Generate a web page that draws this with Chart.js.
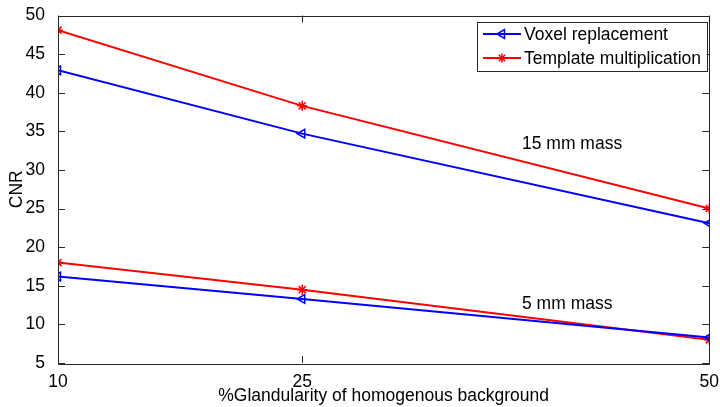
<!DOCTYPE html>
<html><head><meta charset="utf-8">
<script src="https://cdn.jsdelivr.net/npm/chart.js@4/dist/chart.umd.min.js"></script>
<style>html,body{margin:0;padding:0;background:#fff}#wrap{width:720px;height:407px}</style>
</head><body><div id="wrap"><canvas id="c" width="720" height="407"></canvas></div>
<script>
const xValues = [10, 25, 50];
const xTicks = [10, 25, 50];
const voxel15 = [42.9, 34.7, 23.1];
const template15 = [48.1, 38.3, 25.0];
const voxel5 = [16.2, 13.3, 8.3];
const template5 = [18.0, 14.5, 8.0];
const seriesNames = ['Voxel replacement', 'Template multiplication'];
const annotations = [
  {text: '15 mm mass', x: 38.5, y: 33.3},
  {text: '5 mm mass', x: 38.5, y: 12.6}
];
const BLUE = '#0000ff', RED = '#ff0000', AX = '#262626';
const FAM = '"Liberation Sans", Arial, sans-serif';
const FS = 17.5;
const FONT = FS + 'px ' + FAM;

function pts(ys){ return xValues.map((x,i)=>({x:x,y:ys[i]})); }
function ds(label, ys, color, style, rot, r){
  return {label:label, data:pts(ys), borderColor:color, backgroundColor:'rgba(0,0,0,0)',
    borderWidth:2, pointStyle:style, pointRotation:rot, pointRadius:r, pointBorderWidth:1.5,
    pointBorderColor:color, pointBackgroundColor:'rgba(0,0,0,0)', tension:0, fill:false};
}

function drawMarker(ctx, style, x, y, color){
  ctx.save(); ctx.strokeStyle=color; ctx.lineWidth=1.5;
  ctx.beginPath();
  if(style==='tri'){
    const r=5;
    ctx.moveTo(x-r, y); ctx.lineTo(x+r*0.5, y-r*0.866); ctx.lineTo(x+r*0.5, y+r*0.866); ctx.closePath();
  } else {
    const r=4.5;
    ctx.moveTo(x-r,y);ctx.lineTo(x+r,y);ctx.moveTo(x,y-r);ctx.lineTo(x,y+r);
    const d=r*0.707;
    ctx.moveTo(x-d,y-d);ctx.lineTo(x+d,y+d);ctx.moveTo(x-d,y+d);ctx.lineTo(x+d,y-d);
  }
  ctx.stroke(); ctx.restore();
}

const framePlugin = {
  id:'frame',
  afterDatasetsDraw(chart){
    const ctx = chart.ctx, a = chart.chartArea, xs = chart.scales.x, ys = chart.scales.y;
    ctx.save();
    ctx.strokeStyle = AX; ctx.lineWidth = 1;
    ctx.beginPath();
    ctx.rect(Math.round(a.left)+0.5, Math.round(a.top)+0.5, Math.round(a.right-a.left), Math.round(a.bottom-a.top));
    ctx.stroke();
    const tl = 7;
    ctx.beginPath();
    ys.ticks.forEach(t=>{
      const p = Math.round(ys.getPixelForValue(t.value))+0.5;
      ctx.moveTo(a.left, p); ctx.lineTo(a.left+tl, p);
      ctx.moveTo(a.right, p); ctx.lineTo(a.right-tl, p);
    });
    xs.ticks.forEach(t=>{
      const p = Math.round(xs.getPixelForValue(t.value))+0.5;
      ctx.moveTo(p, a.bottom); ctx.lineTo(p, a.bottom-tl);
      ctx.moveTo(p, a.top); ctx.lineTo(p, a.top+tl);
    });
    ctx.stroke();
    // annotations
    ctx.fillStyle = '#000'; ctx.font = FONT; ctx.textBaseline='middle'; ctx.textAlign='left';
    annotations.forEach(an=>{
      ctx.fillText(an.text, xs.getPixelForValue(an.x), ys.getPixelForValue(an.y));
    });
    // legend
    const lx=477, ly=22, lw=230, lh=49;
    ctx.fillStyle='#fff'; ctx.fillRect(lx, ly, lw, lh);
    ctx.strokeStyle=AX; ctx.lineWidth=1; ctx.strokeRect(lx+0.5, ly+0.5, lw, lh);
    const rows = [{c:BLUE, m:'tri', y:34},{c:RED, m:'star', y:58}];
    rows.forEach((r,i)=>{
      ctx.strokeStyle=r.c; ctx.lineWidth=2;
      ctx.beginPath(); ctx.moveTo(483, r.y); ctx.lineTo(521, r.y); ctx.stroke();
      drawMarker(ctx, r.m, 502, r.y, r.c);
      ctx.fillStyle='#000'; ctx.font=FONT; ctx.textBaseline='middle';
      ctx.fillText(seriesNames[i], 524, r.y+1);
    });
    ctx.restore();
  }
};

new Chart(document.getElementById('c'), {
  type:'line',
  data:{datasets:[
    ds(seriesNames[0], voxel15, BLUE, 'triangle', -90, 5),
    ds(seriesNames[1], template15, RED, 'star', 0, 5),
    ds(seriesNames[0]+' 5', voxel5, BLUE, 'triangle', -90, 5),
    ds(seriesNames[1]+' 5', template5, RED, 'star', 0, 5)
  ]},
  options:{
    responsive:false, animation:false, devicePixelRatio:1,
    layout:{padding:{top:15, right:9, left:0, bottom:0}},
    plugins:{legend:{display:false}, tooltip:{enabled:false}},
    scales:{
      x:{type:'linear', min:10, max:50,
        afterBuildTicks(s){ s.ticks = xTicks.map(v=>({value:v})); },
        afterFit(s){ s.height = 44; },
        grid:{display:false}, border:{display:false},
        ticks:{color:'#000', font:{family:FAM, size:FS}, padding:1, maxRotation:0, autoSkip:false},
        title:{display:true, text:'%Glandularity of homogenous background', color:'#000',
          font:{family:FAM, size:FS}, padding:{top:0,bottom:0}}
      },
      y:{type:'linear', min:5, max:50,
        afterFit(s){ s.width = 58; },
        grid:{display:false}, border:{display:false},
        ticks:{stepSize:5, color:'#000', font:{family:FAM, size:FS}, padding:5},
        title:{display:true, text:'CNR', color:'#000',
          font:{family:FAM, size:FS}, padding:{top:7,bottom:0}}
      }
    }
  },
  plugins:[framePlugin]
});
</script></body></html>
